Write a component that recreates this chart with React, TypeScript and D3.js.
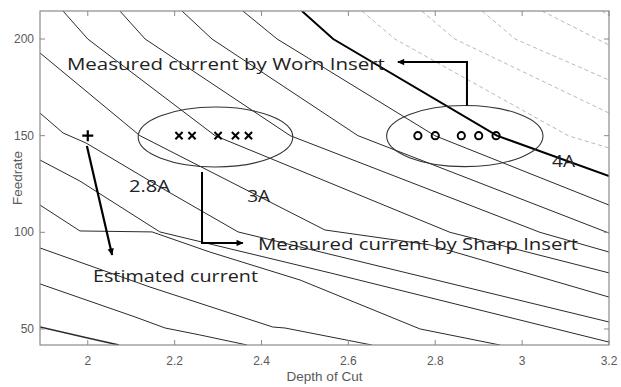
import React from "react";
import * as d3 from "d3";

// axes
const xDomain = [1.89, 3.2];
const yDomain = [41.7, 214.5];
const xTicks = [2, 2.2, 2.4, 2.6, 2.8, 3, 3.2];
const yTicks = [50, 100, 150, 200];

// contour levels (A) and their traced polylines [depth of cut, feedrate]
const c18 = [[1.89, 51.0], [2.0, 45.3], [2.072, 41.7]];
const c20 = [[1.89, 73.3], [2.109, 56.2], [2.178, 50.5], [2.258, 46.9], [2.367, 41.7]];
const c22 = [[1.89, 91.9], [2.143, 71.7], [2.426, 51.0], [2.454, 50.5], [2.654, 41.7]];
const c24 = [[1.89, 114.1], [1.982, 100.7], [2.148, 100.2], [2.281, 89.8], [2.489, 75.3], [2.765, 50.0], [2.949, 41.7]];
const c26 = [[1.89, 137.4], [1.982, 126.5], [2.166, 100.2], [2.558, 79.0], [3.2, 43.2]];
const c28 = [[1.89, 161.7], [1.943, 151.4], [1.996, 146.2], [2.178, 121.9], [2.346, 100.2], [3.2, 53.6]];
const c30 = [[1.89, 192.8], [2.12, 150], [2.546, 101.2], [2.788, 93.5], [3.2, 66.5]];
const c32 = [[1.943, 214.5], [2.0, 200], [2.293, 150], [2.834, 100], [3.2, 79.0]];
const c34 = [[2.074, 214.5], [2.132, 200], [2.466, 150], [3.041, 100], [3.2, 89.8]];
const c36 = [[2.217, 214.5], [2.286, 200], [2.622, 150], [3.2, 99.6]];
const c38 = [[2.357, 214.5], [2.436, 200], [2.799, 150], [3.2, 114.1]];
const c40 = [[2.493, 214.5], [2.565, 200], [2.942, 150], [3.2, 129.1]];
const c42 = [[2.631, 214.5], [2.707, 200], [3.106, 150], [3.2, 143.6]];
const c44 = [[2.769, 214.5], [2.845, 200], [3.2, 161.7]];
const c46 = [[2.908, 214.5], [2.984, 200], [3.2, 178.8]];
const c48 = [[3.046, 214.5], [3.2, 196.9]];
const c50 = [[3.184, 214.5], [3.2, 211.9]];

const levels = [1.8, 2.0, 2.2, 2.4, 2.6, 2.8, 3.0, 3.2, 3.4, 3.6, 3.8, 4.0, 4.2, 4.4, 4.6, 4.8, 5.0];
const contourLines = [c18, c20, c22, c24, c26, c28, c30, c32, c34, c36, c38, c40, c42, c44, c46, c48, c50];

// measurements
const measuredFeed = 150;
const sharpDepths = [2.21, 2.24, 2.3, 2.34, 2.37];
const wornDepths = [2.76, 2.8, 2.86, 2.9, 2.94];
const estimatedPoint = [2.0, 150];
// groups: [center depth, center feed, half-width depth, half-height feed]
const sharpGroup = [2.294, 149.3, 0.178, 15.5];
const wornGroup = [2.868, 149.8, 0.18, 15.8];

const W = 621;
const H = 387;
const M = { left: 40, right: 12, top: 11, bottom: 42 };

export default function App() {
  const x = d3.scaleLinear().domain(xDomain).range([M.left, W - M.right]);
  const y = d3.scaleLinear().domain(yDomain).range([H - M.bottom, M.top]);
  const line = d3
    .line<number[]>()
    .x((d) => x(d[0]))
    .y((d) => y(d[1]));

  const x0 = x.range()[0];
  const x1 = x.range()[1];
  const y0 = y.range()[1];
  const y1 = y.range()[0];
  const tick = 5;
  const axisColor = "#8a8a8a";
  const labelColor = "#5a5a5a";
  const annFont = "'Open Sans', 'Noto Sans', sans-serif";

  const ell = (g: number[]) => ({
    cx: x(g[0]),
    cy: y(g[1]),
    rx: x(g[0] + g[2]) - x(g[0]),
    ry: y(g[1] - g[3]) - y(g[1]),
  });
  const e1 = ell(sharpGroup);
  const e2 = ell(wornGroup);

  return (
    <svg
      width={W}
      height={H}
      style={{ position: "absolute", left: 0, top: 0, background: "#fff" }}
    >
      <defs>
        <clipPath id="plot">
          <rect x={x0} y={y0} width={x1 - x0} height={y1 - y0} />
        </clipPath>
        <marker
          id="ah"
          viewBox="0 0 10 10"
          refX={9}
          refY={5}
          markerWidth={9}
          markerHeight={7}
          markerUnits="userSpaceOnUse"
          orient="auto"
        >
          <path d="M0,0.5 L10,5 L0,9.5 z" fill="#000" />
        </marker>
      </defs>
      <rect x={0} y={0} width={W} height={H} fill="#fff" />

      <g clipPath="url(#plot)">
        {contourLines.map((pts, i) => {
          const lv = levels[i];
          const dashed = lv > 4.0001;
          const thick = Math.abs(lv - 4.0) < 1e-6;
          const low = Math.abs(lv - 1.8) < 1e-6;
          return (
            <path
              key={i}
              d={line(pts as number[][]) || ""}
              fill="none"
              stroke={dashed ? "#b0b0b0" : thick ? "#000" : "#2b2b2b"}
              strokeWidth={thick ? 2 : low ? 1.6 : dashed ? 0.9 : 1}
              strokeDasharray={dashed ? "4 3" : undefined}
            />
          );
        })}
      </g>

      {/* frame */}
      <rect x={x0} y={y0} width={x1 - x0} height={y1 - y0} fill="none" stroke={axisColor} strokeWidth={1.2} />
      {xTicks.map((t) => (
        <g key={"xt" + t}>
          <line x1={x(t)} x2={x(t)} y1={y1} y2={y1 - tick} stroke={axisColor} />
          <line x1={x(t)} x2={x(t)} y1={y0} y2={y0 + tick} stroke={axisColor} />
          <text
            x={x(t)}
            y={y1 + 20}
            textAnchor={t === 3.2 ? "middle" : "middle"}
            fontFamily="'Liberation Sans', Arial, sans-serif"
            fontSize={12}
            fill={labelColor}
          >
            {String(t)}
          </text>
        </g>
      ))}
      {yTicks.map((t) => (
        <g key={"yt" + t}>
          <line x1={x0} x2={x0 + tick} y1={y(t)} y2={y(t)} stroke={axisColor} />
          <line x1={x1} x2={x1 - tick} y1={y(t)} y2={y(t)} stroke={axisColor} />
          <text
            x={x0 - 6}
            y={y(t) + 4}
            textAnchor="end"
            fontFamily="'Liberation Sans', Arial, sans-serif"
            fontSize={12}
            fill={labelColor}
          >
            {String(t)}
          </text>
        </g>
      ))}
      <text
        x={(x0 + x1) / 2}
        y={381}
        textAnchor="middle"
        fontFamily="'Liberation Sans', Arial, sans-serif"
        fontSize={13.5}
        fill={labelColor}
      >
        Depth of Cut
      </text>
      <text
        transform={`translate(22,${(y0 + y1) / 2}) rotate(-90)`}
        textAnchor="middle"
        fontFamily="'Liberation Sans', Arial, sans-serif"
        fontSize={13.5}
        fill={labelColor}
      >
        Feedrate
      </text>

      {/* groups */}
      <ellipse cx={e1.cx} cy={e1.cy} rx={e1.rx} ry={e1.ry} fill="none" stroke="#333" strokeWidth={1.1} />
      <ellipse cx={e2.cx} cy={e2.cy} rx={e2.rx} ry={e2.ry} fill="none" stroke="#333" strokeWidth={1.1} />

      {sharpDepths.map((d, i) => {
        const cx = x(d);
        const cy = y(measuredFeed);
        const s = 3.6;
        return (
          <path
            key={"s" + i}
            d={`M${cx - s},${cy - s}L${cx + s},${cy + s}M${cx - s},${cy + s}L${cx + s},${cy - s}`}
            stroke="#000"
            strokeWidth={2}
          />
        );
      })}
      {wornDepths.map((d, i) => (
        <circle key={"w" + i} cx={x(d)} cy={y(measuredFeed)} r={3.6} fill="none" stroke="#000" strokeWidth={2} />
      ))}
      {(() => {
        const cx = x(estimatedPoint[0]);
        const cy = y(estimatedPoint[1]);
        const s = 5.5;
        return (
          <path
            d={`M${cx - s},${cy}H${cx + s}M${cx},${cy - s}V${cy + s}`}
            stroke="#000"
            strokeWidth={2.2}
          />
        );
      })()}

      {/* arrows */}
      <path
        d={`M${x(2.873)},${y(165.6)}V${y(188.1)}H${x(2.714)}`}
        fill="none"
        stroke="#000"
        strokeWidth={2}
        markerEnd="url(#ah)"
      />
      <path
        d={`M${x(2.263)},${y(131.2)}V${y(94.5)}H${x(2.357)}`}
        fill="none"
        stroke="#000"
        strokeWidth={2}
        markerEnd="url(#ah)"
      />
      <path
        d={`M${x(1.998)},${y(144.7)}L${x(2.056)},${y(88.3)}`}
        fill="none"
        stroke="#000"
        strokeWidth={2.2}
        markerEnd="url(#ah)"
      />

      {/* annotation text */}
      <g fontFamily={annFont} fontSize={16} fill="#222">
        <text x={x(1.952)} y={y(184.0)} textLength={318} lengthAdjust="spacingAndGlyphs">
          Measured current by Worn Insert
        </text>
        <text x={x(2.392)} y={y(90.85)} textLength={320} lengthAdjust="spacingAndGlyphs">
          Measured current by Sharp Insert
        </text>
        <text x={x(2.012)} y={y(74.3)} textLength={165} lengthAdjust="spacingAndGlyphs">
          Estimated current
        </text>
        <text x={x(2.095)} y={y(120.9)} textLength={41} lengthAdjust="spacingAndGlyphs">
          2.8A
        </text>
        <text x={x(2.367)} y={y(115.7)} textLength={23} lengthAdjust="spacingAndGlyphs">
          3A
        </text>
        <text x={x(3.069)} y={y(133.8)} textLength={23} lengthAdjust="spacingAndGlyphs">
          4A
        </text>
      </g>
    </svg>
  );
}
